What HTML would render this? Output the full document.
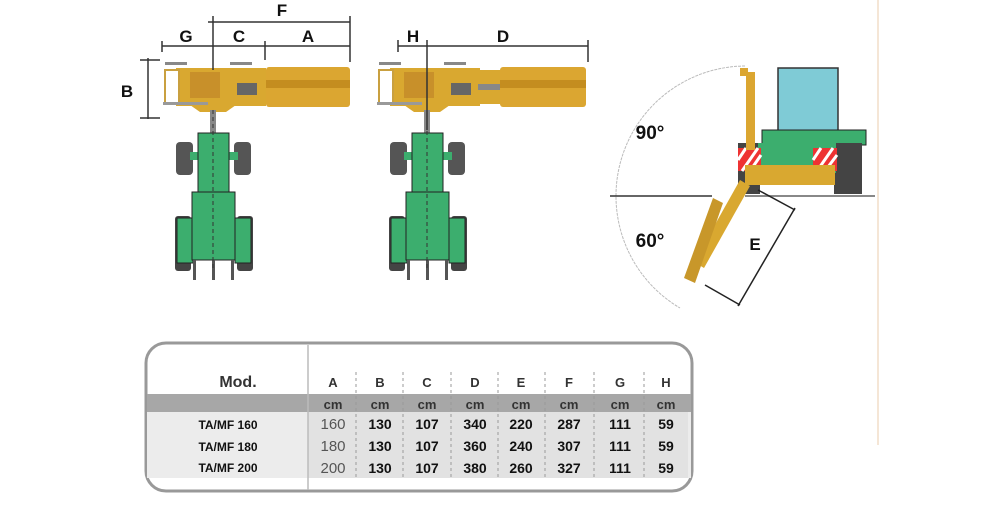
<!DOCTYPE html>
<html><head><meta charset="utf-8"><style>
body{margin:0;background:#fff;width:1000px;height:500px;overflow:hidden;font-family:"Liberation Sans",sans-serif}
</style></head><body>
<svg width="1000" height="500" viewBox="0 0 1000 500" xmlns="http://www.w3.org/2000/svg">
<defs>
<g id="trac">
  <rect x="165" y="62" width="22" height="3" fill="#888"/>
  <rect x="230" y="62" width="22" height="3" fill="#888"/>
  <rect x="176" y="68" width="90" height="38" fill="#d9a830"/>
  <rect x="165" y="70" width="14" height="34" fill="#fff" stroke="#c9a040" stroke-width="2"/>
  <rect x="163" y="102" width="45" height="3" fill="#999"/>
  <rect x="237" y="83" width="20" height="12" fill="#666"/>
  <rect x="190" y="72" width="30" height="26" fill="#c8902a"/>
  <path d="M190 105 L200 112 L226 112 L236 105 Z" fill="#d9a830"/>
  <rect x="210" y="110" width="6" height="25" fill="#888"/>
  <rect x="176" y="142" width="17" height="33" rx="4" fill="#555"/>
  <rect x="234" y="142" width="17" height="33" rx="4" fill="#555"/>
  <rect x="190" y="152" width="48" height="8" fill="#3cae6e"/>
  <rect x="198" y="133" width="31" height="60" fill="#3cae6e" stroke="#222" stroke-width="1"/>
  <rect x="175" y="216" width="16" height="55" rx="3" fill="#444"/>
  <rect x="237" y="216" width="16" height="55" rx="3" fill="#444"/>
  <rect x="177" y="218" width="16" height="45" fill="#3cae6e" stroke="#222" stroke-width="1"/>
  <rect x="235" y="218" width="16" height="45" fill="#3cae6e" stroke="#222" stroke-width="1"/>
  <rect x="192" y="192" width="43" height="68" fill="#3cae6e" stroke="#222" stroke-width="1"/>
  <rect x="193" y="260" width="3" height="20" fill="#555"/>
  <rect x="212" y="260" width="3" height="20" fill="#555"/>
  <rect x="231" y="260" width="3" height="20" fill="#555"/>
  <line x1="213" y1="110" x2="213" y2="270" stroke="#333" stroke-width="1" stroke-dasharray="4 3"/>
</g>
</defs>
<use href="#trac"/>
<rect x="266" y="67" width="84" height="40" rx="3" fill="#dba631"/>
<rect x="266" y="80" width="84" height="8" fill="#c48d1f"/>
<g stroke="#333" stroke-width="1.5" fill="none">
<line x1="208" y1="22" x2="350" y2="22"/><line x1="213" y1="16" x2="213" y2="70"/><line x1="350" y1="16" x2="350" y2="62"/>
<line x1="162" y1="46" x2="350" y2="46"/><line x1="162" y1="41" x2="162" y2="52"/><line x1="265" y1="41" x2="265" y2="60"/>
<line x1="148" y1="58" x2="148" y2="119"/><line x1="140" y1="60" x2="160" y2="60"/><line x1="140" y1="118" x2="160" y2="118"/>
</g>
<g font-weight="bold" font-size="17" fill="#111" text-anchor="middle">
<text x="282" y="16">F</text><text x="186" y="42">G</text><text x="239" y="42">C</text><text x="308" y="42">A</text><text x="127" y="97">B</text>
<text x="413" y="42">H</text><text x="503" y="42">D</text>
<text x="650" y="139" font-size="19">90°</text><text x="650" y="247" font-size="19">60°</text><text x="755" y="250">E</text>
</g>
<use href="#trac" transform="translate(214,0)"/>
<rect x="478" y="70" width="24" height="34" fill="#d9a830"/>
<rect x="478" y="84" width="24" height="6" fill="#888"/>
<rect x="500" y="67" width="86" height="40" rx="3" fill="#dba631"/>
<rect x="500" y="80" width="86" height="8" fill="#c48d1f"/>
<g stroke="#333" stroke-width="1.5">
<line x1="398" y1="46" x2="588" y2="46"/><line x1="398" y1="40" x2="398" y2="52"/><line x1="427" y1="40" x2="427" y2="130"/><line x1="588" y1="40" x2="588" y2="62"/>
</g>
<line x1="878" y1="0" x2="878" y2="445" stroke="#f5e6d6" stroke-width="2"/>
<path d="M745 66 A130 130 0 0 0 680 308" stroke="#bbb" stroke-width="1" fill="none" stroke-dasharray="3 1"/>
<line x1="610" y1="196" x2="712" y2="196" stroke="#333" stroke-width="1.5"/>
<line x1="745" y1="196" x2="875" y2="196" stroke="#888" stroke-width="2"/>
<rect x="778" y="68" width="60" height="63" fill="#7fcbd6" stroke="#333" stroke-width="1.5"/>
<rect x="762" y="130" width="104" height="15" fill="#3cae6e" stroke="#222"/>
<rect x="738" y="143" width="22" height="51" fill="#444"/>
<rect x="834" y="143" width="28" height="51" fill="#444"/>
<rect x="758" y="143" width="78" height="30" fill="#3cae6e"/>
<rect x="738" y="148" width="23" height="23" fill="#e33"/>
<rect x="813" y="148" width="24" height="23" fill="#e33"/>
<path d="M742 171 L758 148 M750 171 L761 155 M738 160 L746 148" stroke="#fff" stroke-width="3"/>
<path d="M817 171 L833 148 M825 171 L837 155 M813 160 L821 148" stroke="#fff" stroke-width="3"/>
<rect x="746" y="72" width="9" height="78" fill="#dba631"/>
<rect x="740" y="68" width="8" height="8" fill="#dba631"/>
<rect x="745" y="165" width="90" height="20" fill="#d9a830"/>
<path d="M740 180 L750 186 L704 268 L694 262 Z" fill="#d9a830"/>
<path d="M713 198 L723 203 L695 283 L684 278 Z" fill="#c8972a"/>
<g stroke="#222" stroke-width="1.5">
<line x1="795" y1="208" x2="738" y2="306"/><line x1="758" y1="190" x2="795" y2="210"/><line x1="705" y1="285" x2="740" y2="305"/>
</g>
<rect x="146" y="343" width="546" height="148" rx="20" fill="#fff" stroke="#999" stroke-width="3"/>
<rect x="147" y="394" width="544" height="18" fill="#a7a7a7"/>
<rect x="147" y="412" width="544" height="66" fill="#ececec"/>
<rect x="308" y="412" width="380" height="66" fill="#e2e2e2"/>
<line x1="308" y1="345" x2="308" y2="490" stroke="#bbb" stroke-width="1.5"/>
<g stroke="#999" stroke-dasharray="3 3">
<line x1="356" y1="372" x2="356" y2="478"/><line x1="403" y1="372" x2="403" y2="478"/><line x1="451" y1="372" x2="451" y2="478"/><line x1="498" y1="372" x2="498" y2="478"/><line x1="545" y1="372" x2="545" y2="478"/><line x1="594" y1="372" x2="594" y2="478"/><line x1="644" y1="372" x2="644" y2="478"/>
</g>
<g font-weight="bold" fill="#333" text-anchor="middle">
<text x="238" y="387" font-size="16">Mod.</text>
<g font-size="13"><text x="333" y="387">A</text><text x="380" y="387">B</text><text x="427" y="387">C</text><text x="475" y="387">D</text><text x="521" y="387">E</text><text x="569" y="387">F</text><text x="620" y="387">G</text><text x="666" y="387">H</text></g>
<g font-size="13"><text x="333" y="409">cm</text><text x="380" y="409">cm</text><text x="427" y="409">cm</text><text x="475" y="409">cm</text><text x="521" y="409">cm</text><text x="569" y="409">cm</text><text x="620" y="409">cm</text><text x="666" y="409">cm</text></g>
<g font-size="12" fill="#111"><text x="228" y="429">TA/MF 160</text><text x="228" y="451">TA/MF 180</text><text x="228" y="472">TA/MF 200</text></g>
<g font-size="14" fill="#111">
<text x="380" y="429">130</text><text x="427" y="429">107</text><text x="475" y="429">340</text><text x="521" y="429">220</text><text x="569" y="429">287</text><text x="620" y="429">111</text><text x="666" y="429">59</text>
<text x="380" y="451">130</text><text x="427" y="451">107</text><text x="475" y="451">360</text><text x="521" y="451">240</text><text x="569" y="451">307</text><text x="620" y="451">111</text><text x="666" y="451">59</text>
<text x="380" y="473">130</text><text x="427" y="473">107</text><text x="475" y="473">380</text><text x="521" y="473">260</text><text x="569" y="473">327</text><text x="620" y="473">111</text><text x="666" y="473">59</text>
</g>
</g>
<g font-size="15" fill="#555" text-anchor="middle"><text x="333" y="429">160</text><text x="333" y="451">180</text><text x="333" y="473">200</text></g>
</svg>
</body></html>
